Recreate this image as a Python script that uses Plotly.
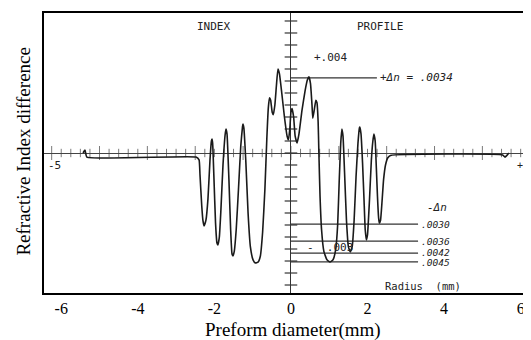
import numpy as np
import plotly.graph_objects as go

# Refractive index profile trace (x: preform diameter in mm, y: index difference in units of 1e-3)
profile_x = [-5.43, -5.38, -5.33, -2.48, -2.40, -2.376, -2.33, -2.30, -2.27, -2.22, -2.167, -2.115, -2.077,
             -2.063, -2.045, -2.01, -1.97, -1.932, -1.906, -1.87, -1.83, -1.775, -1.72, -1.697, -1.67, -1.62,
             -1.575, -1.54, -1.514, -1.48, -1.43, -1.37, -1.31, -1.265, -1.253, -1.23, -1.18, -1.12, -1.06,
             -0.99, -0.93, -0.86, -0.80, -0.74, -0.68, -0.63, -0.59, -0.56, -0.53, -0.49, -0.46, -0.42, -0.38,
             -0.34, -0.30, -0.24, -0.17, -0.10, -0.065, -0.03, 0.0, 0.03, 0.07, 0.11, 0.16, 0.21, 0.29, 0.37,
             0.43, 0.47, 0.51, 0.55, 0.57, 0.61, 0.65, 0.68, 0.71, 0.73, 0.76, 0.80, 0.86, 0.94, 1.02, 1.10,
             1.17, 1.22, 1.26, 1.30, 1.33, 1.36, 1.40, 1.45, 1.50, 1.55, 1.60, 1.65, 1.70, 1.75, 1.79, 1.80,
             1.83, 1.87, 1.91, 1.94, 1.97, 2.00, 2.05, 2.10, 2.14, 2.167, 2.20, 2.23, 2.26, 2.29, 2.31, 2.34,
             2.38, 2.42, 2.47, 2.53, 2.60, 5.53, 5.59, 5.64, 5.69]
profile_y = [0.0, 0.12, -0.17, -0.17, -0.29, -0.9, -2.2, -2.8, -3.04, -2.8, -1.9, -0.3, 0.5,
             0.58, 0.4, -1.1, -2.9, -3.75, -3.83, -3.5, -2.4, -0.5, 0.75, 1.0, 0.8, -1.1,
             -3.2, -4.2, -4.29, -4.1, -3.2, -1.5, 0.3, 1.1, 1.21, 1.05, -0.3, -2.5, -3.9,
             -4.45, -4.58, -4.55, -4.3, -3.3, -1.5, 0.6, 1.9, 2.3, 2.2, 1.7, 1.6, 2.0, 2.8,
             3.5, 3.3, 2.5, 1.5, 0.7, 0.55, 1.0, 1.7, 1.85, 1.5, 0.7, 0.42, 0.8, 1.8, 2.6,
             3.05, 3.17, 2.9, 2.0, 1.45, 1.8, 2.2, 2.1, 1.3, 0.0, -1.8, -3.2, -4.1, -4.45, -4.54, -4.45,
             -4.0, -3.0, -1.2, 0.4, 1.0, 0.7, -0.8, -2.8, -3.9, -4.12, -3.9, -2.8, -1.0, 0.4, 1.05, 1.08,
             0.8, -0.4, -2.0, -3.2, -3.62, -3.4, -2.0, -0.3, 0.5, 0.79, 0.5, -0.6, -1.8, -2.7, -2.92, -2.8,
             -2.0, -1.1, -0.5, -0.2, -0.1, -0.08, -0.17, -0.1, 0.0]

# Annotation levels on the original recorder chart
pos_level = 3.13
pos_label = "+\u0394n = .0034"
neg_levels = [-2.96, -3.67, -4.17, -4.54]
neg_labels = [".0030", ".0036", ".0042", ".0045"]
neg_label_shift = [0, 0, 1, -1]
level_line_end = 3.32
pos_line_end = 2.245

x_tick_vals = [-6, -4, -2, 0, 2, 4, 6]
x_tick_text = ["-6", "-4", "-2", "0", "2", "4", "6"]

ink = "#1a1a1a"
serif = "Liberation Serif, Times New Roman, serif"
mono = "DejaVu Sans Mono, monospace"

fig = go.Figure()

# scan axis ticks (horizontal axis)
hx = np.arange(-6.25, 6.3, 0.25)
major = [abs(round(v / 1.25) * 1.25 - v) < 1e-6 for v in hx]
fig.add_trace(go.Scatter(x=hx, y=[0] * len(hx), mode="markers",
                         marker=dict(symbol="line-ns", size=[10 if m else 6 for m in major],
                                     line=dict(width=1, color="#444")),
                         hoverinfo="skip", showlegend=False))
# scan axis ticks (vertical axis)
vy = np.arange(-5.5, 5.6, 0.5)
fig.add_trace(go.Scatter(x=[0] * len(vy), y=vy, mode="markers",
                         marker=dict(symbol="line-ew", size=9, line=dict(width=1.2, color="#333")),
                         hoverinfo="skip", showlegend=False))

# level lines
fig.add_trace(go.Scatter(x=[0, pos_line_end], y=[pos_level, pos_level], mode="lines",
                         line=dict(color="#333", width=1.2), hoverinfo="skip", showlegend=False))
for lv in neg_levels:
    fig.add_trace(go.Scatter(x=[0, level_line_end], y=[lv, lv], mode="lines",
                             line=dict(color="#333", width=1.2), hoverinfo="skip", showlegend=False))

# profile curve
fig.add_trace(go.Scatter(x=profile_x, y=profile_y, mode="lines",
                         line=dict(color=ink, width=1.6, shape="spline", smoothing=0.4),
                         showlegend=False))

ann = []
def txt(x, y, t, size=11, italic=False, xanchor="center", color="#222", font=mono, yshift=0):
    ann.append(dict(x=x, y=y, xref="x", yref="y", text=t, showarrow=False, xanchor=xanchor,
                    yanchor="middle", yshift=yshift,
                    font=dict(family=font, size=size, color=color, style="italic" if italic else "normal")))

txt(-2.01, 5.29, "INDEX")
txt(2.32, 5.29, "PROFILE")
txt(1.04, 3.96, "+.004")
txt(pos_line_end + 0.02, pos_level, pos_label, italic=True, xanchor="left")
txt(3.81, -2.25, "-\u0394n", italic=True)
for lv, lb, sh in zip(neg_levels, neg_labels, neg_label_shift):
    txt(level_line_end + 0.03, lv, lb, size=9.5, italic=True, xanchor="left", yshift=sh)
txt(1.02, -3.92, "-  .003")
txt(3.45, -5.54, "Radius  (mm)", size=10.5)
txt(-6.4, -0.5, "-5", xanchor="left")
txt(6.27, -0.54, "+5", xanchor="right", size=10)

# axis titles (plot area spans x 44..531 and y 13..293 in the window)
ann.append(dict(x=(24 - 44) / 487, y=0.505, xref="paper", yref="paper", xanchor="center", yanchor="middle",
                text="Refractive Index difference", showarrow=False, textangle=-90,
                font=dict(family=serif, size=19, color="black")))
ann.append(dict(x=(293 - 44) / 487, y=(293 - 330) / 280, xref="paper", yref="paper", xanchor="center",
                yanchor="middle", text="Preform diameter(mm)", showarrow=False,
                font=dict(family=serif, size=19, color="black")))

# page body has an 8px default margin, so the figure is shrunk by 8px in each direction
fig.update_layout(
    width=523, height=332, autosize=False,
    margin=dict(l=36, r=0, t=5, b=47),
    paper_bgcolor="white", plot_bgcolor="white",
    annotations=ann,
    xaxis=dict(range=[-6.45, 6.27], tickvals=x_tick_vals, ticktext=x_tick_text,
               showgrid=False, zeroline=True, zerolinecolor="#333", zerolinewidth=1.3,
               showline=True, linecolor="black", linewidth=1.5, mirror=True, ticks="",
               tickfont=dict(family=serif, size=16, color="black")),
    yaxis=dict(range=[-5.833, 5.833], showgrid=False, zeroline=True, zerolinecolor="#444",
               zerolinewidth=1.2, showline=True, linecolor="black", linewidth=1.5, mirror=False,
               showticklabels=False, ticks=""),
)

fig.write_html("out.html")
